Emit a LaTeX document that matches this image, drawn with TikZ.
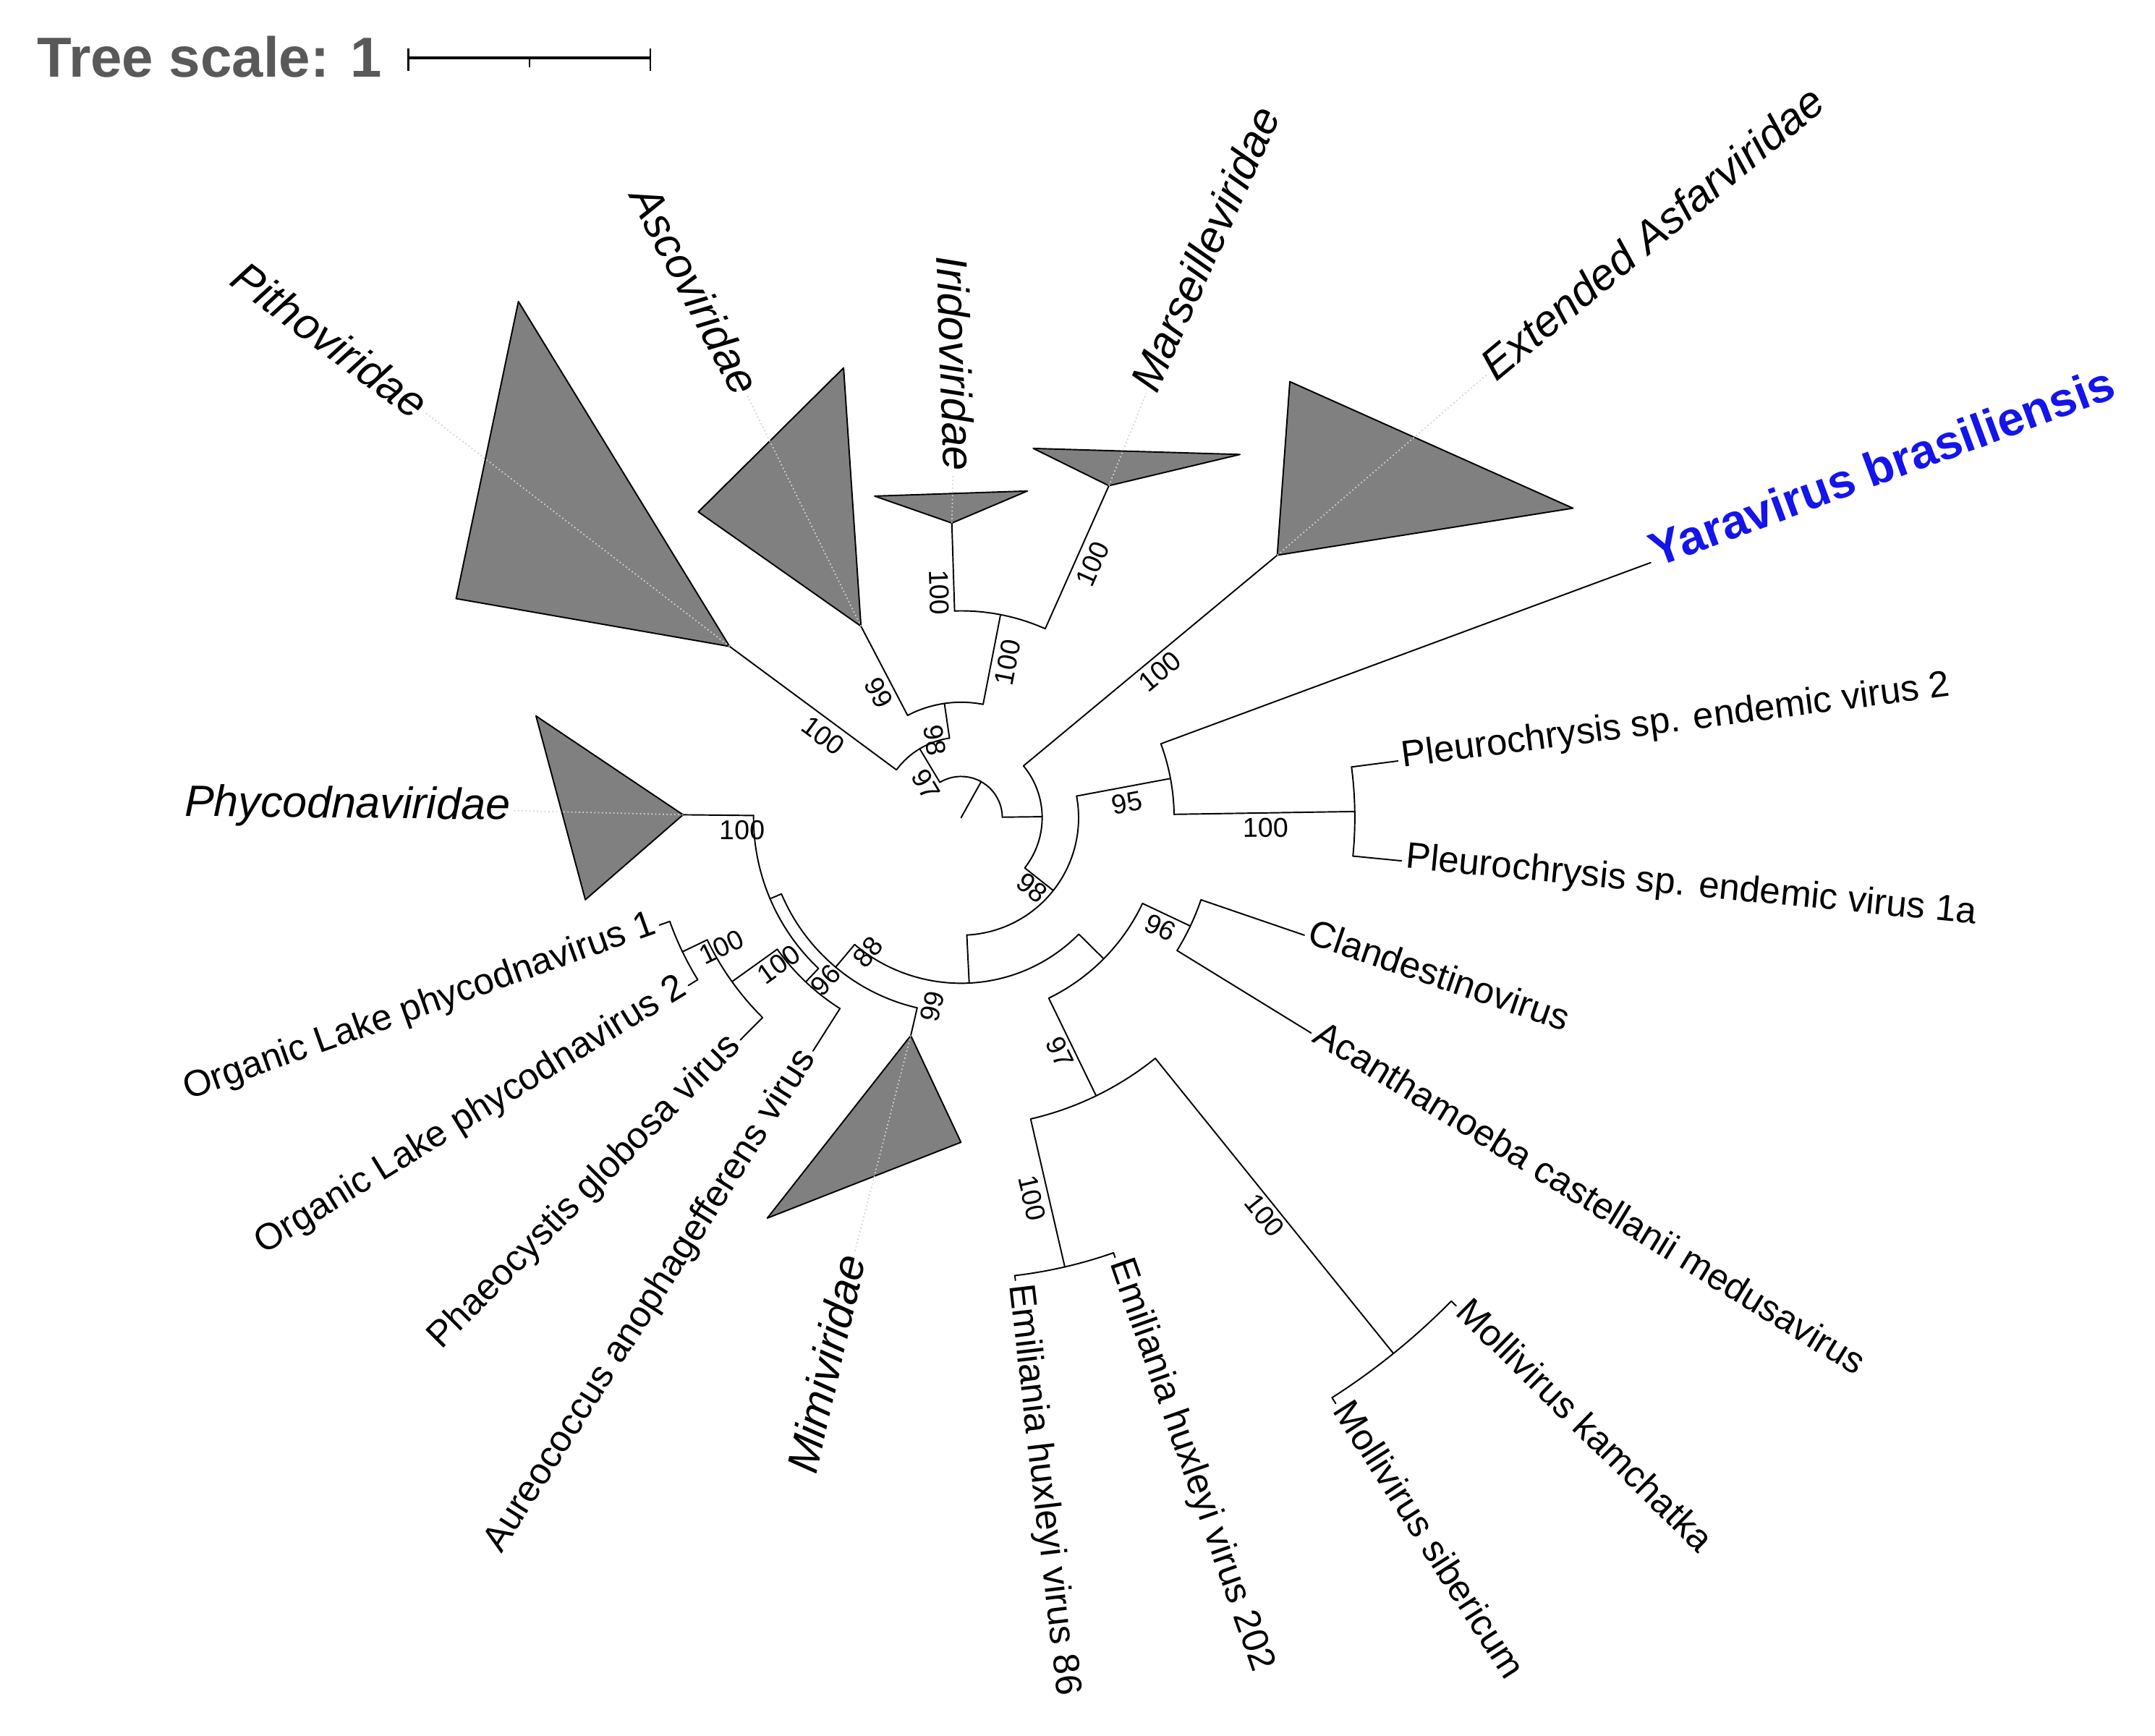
\documentclass[tikz,border=0pt]{standalone}
\usepackage{fontspec}
\setmainfont{Liberation Sans}
\usepackage{tikz}
\usepackage{xcolor}

\definecolor{cladegray}{RGB}{128,128,128}
\definecolor{scalegray}{RGB}{89,89,89}
\definecolor{yarablue}{RGB}{20,20,235}

% radial branch: child name, angle, parent radius, child radius
\newcommand{\radial}[4]{%
  \coordinate (#1) at (#2:#4);
  \coordinate (#1-f) at (#2:#3);
  \draw[edge] (#1-f) -- (#1);}
% arc of an inner node, starting at the foot of a child
\newcommand{\fan}[4]{%
  \draw[edge] (#1-f) arc[start angle=#2, end angle=#3, radius=#4];}

\tikzset{
  edge/.style={line width=0.55pt, line cap=round},
  clade/.style={fill=cladegray, draw=black, line width=0.55pt, line join=round},
  leader/.style={gray!35, densely dotted, line width=0.5pt},
  leaf/.style={font=\fontsize{14.5}{17}\selectfont, inner xsep=1.5pt, inner ysep=0pt},
  cladelab/.style={font=\fontsize{17.3}{20}\selectfont\itshape, inner xsep=1pt, inner ysep=0pt},
  boot/.style={font=\fontsize{10.7}{12}\selectfont, inner sep=0pt},
}

\begin{document}
\begin{tikzpicture}[x=0.019cm, y=0.019cm]
    \useasboundingbox (-699.3,-668) rectangle (868.7,595);

    % scale
    \node[anchor=base west, inner sep=0pt, text=scalegray, font=\fontsize{22.2}{26}\selectfont\bfseries] (scaletxt) at (-672.4,538.9) {Tree scale: 1};
    \draw[line width=0.9pt] (-402.2,552.9) -- (-226,552.9);
    \draw[line width=0.7pt] (-402.2,559.9) -- (-402.2,543.2);
    \draw[line width=0.7pt] (-226,559.9) -- (-226,543.2);
    \draw[line width=0.5pt] (-314.1,552.9) -- (-314.1,546);

    % root
    \coordinate (root) at (0,0);
    \coordinate (rootpt) at (60.85:30);
    \draw[edge] (root) -- (rootpt);
    \radial{nA}{121}{30}{58.5}
    \radial{nB}{0.7}{30}{59}
    \fan{nB}{0.7}{121}{30}

    % upper left part
    \radial{pitho}{143.5}{58.5}{209.5}
    \radial{nAb}{98.3}{58.5}{84}
    \fan{nAb}{98.3}{143.5}{58.5}
    \radial{asco}{117.6}{84}{157.2}
    \radial{nAc}{79}{84}{150.5}
    \fan{nAc}{79}{117.6}{84}
    \radial{irido}{91.8}{150.5}{214.5}
    \radial{marse}{66}{150.5}{264.4}
    \fan{marse}{66}{91.8}{150.5}

    % right part
    \radial{asfar}{39.7}{59}{299}
    \radial{nC}{-38.3}{59}{85.5}
    \fan{nC}{-38.3}{39.7}{59}
    \radial{nP}{10.6}{85.5}{155}
    \radial{nQ}{-87.2}{85.5}{120.5}
    \fan{nQ}{-87.2}{10.6}{85.5}
    \radial{yara}{20.3}{155}{535}
    \radial{nPl}{0.9}{155}{286.5}
    \fan{nPl}{0.9}{20.3}{155}
    \radial{pl2}{7.4}{286.5}{320.5}
    \radial{pl1}{-5.6}{286.5}{322}
    \fan{pl1}{-5.6}{7.4}{286.5}

    % lower right part
    \radial{nR}{-44.7}{120.5}{146}
    \radial{nU}{-130}{120.5}{142}
    \fan{nU}{-130}{-44.7}{120.5}
    \radial{nS}{-25.3}{146}{184.5}
    \radial{nT}{-64.1}{146}{225}
    \fan{nT}{-64.1}{-25.3}{146}
    \radial{clan}{-18.9}{184.5}{264}
    \radial{acan}{-31.6}{184.5}{299}
    \fan{acan}{-31.6}{-18.9}{184.5}
    \radial{nE}{-77}{225}{335.5}
    \radial{nM}{-51.1}{225}{501}
    \fan{nE}{-77}{-51.1}{225}
    \radial{ehvb}{-70.7}{335.5}{339}
    \radial{ehva}{-83.3}{335.5}{339}
    \fan{ehva}{-83.3}{-70.7}{335.5}
    \radial{mkam}{-44.6}{501}{506}
    \radial{msib}{-57.4}{501}{506}
    \fan{msib}{-57.4}{-44.6}{501}

    % lower left part
    \radial{mimi}{-103}{142}{162.7}
    \radial{nW}{-157}{142}{151}
    \fan{nW}{-157}{-103}{142}
    \radial{phyco}{179.4}{151}{202.3}
    \radial{nY}{-133.4}{151}{164.5}
    \fan{phyco}{179.4}{226.6}{151}
    \radial{aur}{-122.4}{164.5}{201}
    \radial{nZ}{-144.4}{164.5}{205}
    \fan{nZ}{-144.4}{-122.4}{164.5}
    \radial{phaeo}{-134.8}{205}{228}
    \radial{nOL}{-154.3}{205}{225}
    \fan{nOL}{-154.3}{-134.8}{205}
    \radial{ola}{-160.4}{225}{233}
    \radial{olb}{-148.4}{225}{233}
    \fan{ola}{-160.4}{-148.4}{225}

    % collapsed clades
    \filldraw[clade] (pitho) -- (-322.1,375.6) -- (-367.4,159.4) -- cycle;
    \filldraw[clade] (asco) -- (-85.5,327.3) -- (-191.2,222.5) -- cycle;
    \filldraw[clade] (irido) -- (-62.9,234) -- (48.2,237.7) -- cycle;
    \filldraw[clade] (marse) -- (52.5,268.7) -- (202.9,264.3) -- cycle;
    \filldraw[clade] (asfar) -- (239.2,317.3) -- (445.2,225.2) -- cycle;
    \filldraw[clade] (phyco) -- (-309.3,74) -- (-273.4,-59.7) -- cycle;
    \filldraw[clade] (mimi) -- (-0.1,-236.2) -- (-141,-291.4) -- cycle;

    % clade names
    \node[cladelab, anchor=mid east, rotate=-36.5] (pitholab) at (143.5:490) {Pithoviridae};
    \node[cladelab, anchor=mid east, rotate=-62.4] (ascolab) at (117.6:345) {Ascoviridae};
    \node[cladelab, anchor=mid east, rotate=-88.2] (iridolab) at (91.8:250) {Iridoviridae};
    \node[cladelab, anchor=mid west, rotate=66] (marselab) at (66:337) {Marseilleviridae};
    \node[cladelab, anchor=mid west, rotate=39.7] (asfarlab) at (39.7:500) {Extended Asfarviridae};
    \node[cladelab, anchor=mid east, rotate=-0.6] (phycolab) at (179.4:326) {Phycodnaviridae};
    \node[cladelab, anchor=mid east, rotate=77] (mimilab) at (-103:326) {Mimiviridae};
    \foreach \c in {pitho, asco, irido, marse, asfar, phyco, mimi}
        \draw[leader] (\c) -- (\c lab);

    % leaf names
    \node[leaf, anchor=mid west, rotate=20.3, font=\fontsize{18.8}{21}\selectfont\bfseries, text=yarablue] (yaralab) at (yara) {Yaravirus brasiliensis};
    \node[leaf, anchor=mid west, rotate=7.4] (pl2lab) at (pl2) {Pleurochrysis sp. endemic virus 2};
    \node[leaf, anchor=mid west, rotate=-5.6] (pl1lab) at (pl1) {Pleurochrysis sp. endemic virus 1a};
    \node[leaf, anchor=mid west, rotate=-18.9] (clanlab) at (clan) {Clandestinovirus};
    \node[leaf, anchor=mid west, rotate=-31.6] (acanlab) at (acan) {Acanthamoeba castellanii medusavirus};
    \node[leaf, anchor=mid west, rotate=-44.6] (mkamlab) at (mkam) {Mollivirus kamchatka};
    \node[leaf, anchor=mid west, rotate=-57.4] (msiblab) at (msib) {Mollivirus sibericum};
    \node[leaf, anchor=mid west, rotate=-70.7] (ehvblab) at (ehvb) {Emiliania huxleyi virus 202};
    \node[leaf, anchor=mid west, rotate=-83.3] (ehvalab) at (ehva) {Emiliania huxleyi virus 86};
    \node[leaf, anchor=mid east, rotate=57.6] (aurlab) at (aur) {Aureococcus anophagefferens virus};
    \node[leaf, anchor=mid east, rotate=45.2] (phaeolab) at (phaeo) {Phaeocystis globosa virus};
    \node[leaf, anchor=mid east, rotate=31.6] (olblab) at (olb) {Organic Lake phycodnavirus 2};
    \node[leaf, anchor=mid east, rotate=19.6] (olalab) at (ola) {Organic Lake phycodnavirus 1};

    % support values
    \node[boot, rotate=-36.6] (s1) at (-100.3,59.6) {100};
    \node[boot, rotate=-59] (s2) at (-25.6,24.2) {97};
    \node[boot, rotate=-81.6] (s3) at (-19.1,56.3) {98};
    \node[boot, rotate=-62.4] (s4) at (-59.9,90.8) {99};
    \node[boot, rotate=79] (s5) at (33.9,113) {100};
    \node[boot, rotate=-88.2] (s6) at (-15.9,163.9) {100};
    \node[boot, rotate=66] (s7) at (95.5,184.5) {100};
    \node[boot, rotate=39.7] (s8) at (144.5,106.5) {100};
    \node[boot, rotate=-38.3] (s9) at (51.7,-51) {98};
    \node[boot, rotate=10.6] (s10) at (120.7,10.8) {95};
    \node[boot, rotate=0.9] (s11) at (221.9,-7.4) {100};
    \node[boot, rotate=-25.3] (s12) at (144.8,-79.9) {96};
    \node[boot, rotate=-64.1] (s13) at (71.7,-170.5) {97};
    \node[boot, rotate=-77] (s14) at (51.7,-276.6) {100};
    \node[boot, rotate=-51.1] (s15) at (220.9,-289.4) {100};
    \node[boot, rotate=-0.6] (s16) at (-159.3,-9) {100};
    \node[boot, rotate=77] (s17) at (-21,-137.5) {99};
    \node[boot, rotate=50] (s18) at (-67.9,-98) {88};
    \node[boot, rotate=46.6] (s19) at (-98.7,-118.2) {96};
    \node[boot, rotate=35.6] (s20) at (-132.5,-106.8) {100};
    \node[boot, rotate=25.6] (s21) at (-174.4,-94.1) {100};
\end{tikzpicture}
\end{document}
